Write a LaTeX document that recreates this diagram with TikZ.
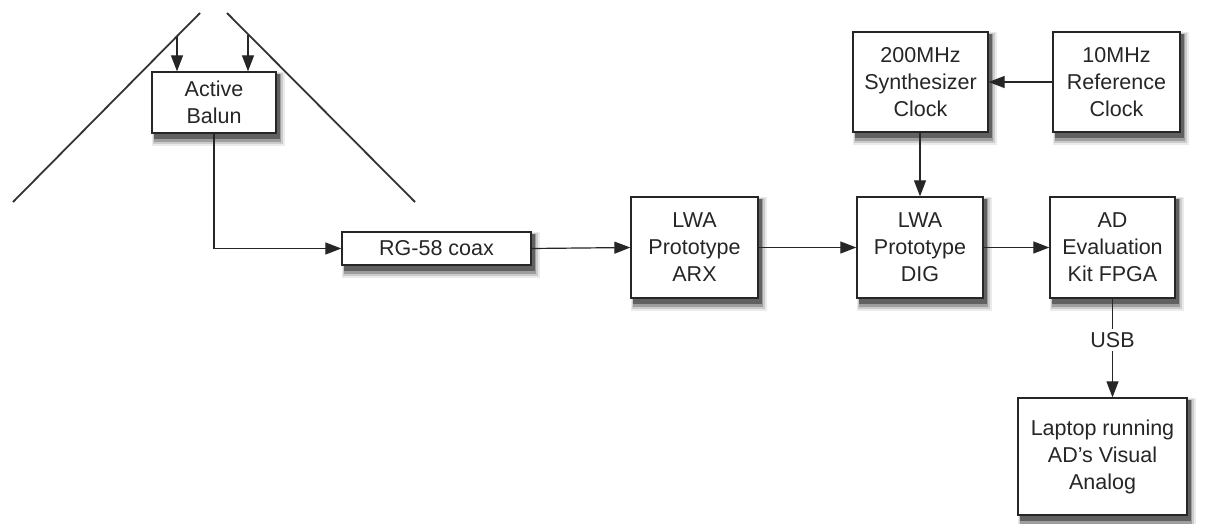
\documentclass[tikz,border=0pt]{standalone}
\usepackage{fontspec}
\setmainfont{Liberation Sans}
\usetikzlibrary{arrows.meta}
\newcommand\shadowat[4]{%
  \fill[black!8] (#1,#2) rectangle ([shift={(9,13)}]#3,#4);
  \fill[black!20] ([shift={(1,1)}]#1,#2) rectangle ([shift={(7,11)}]#3,#4);
  \fill[black!38] ([shift={(2,2)}]#1,#2) rectangle ([shift={(5,9)}]#3,#4);
  \fill[black!62] ([shift={(2,2)}]#1,#2) rectangle ([shift={(4,6)}]#3,#4);
}
\begin{document}
\begin{tikzpicture}[x=1pt,y=-1pt,
  box/.style={draw=black!85,line width=1.3pt,fill=white,align=center,
    inner sep=0pt,text=black!85,
    font=\fontsize{21.5}{27}\selectfont},
  arr/.style={draw=black!85,line width=1.2pt,-{Triangle[length=16pt,width=12pt]}},
  ant/.style={draw=black!80,line width=1.8pt}]
\useasboundingbox (0,0) rectangle (1210,524);
% soft drop shadows behind the boxes
\shadowat{152}{72}{276}{133}
\shadowat{342}{232}{531}{265}
\shadowat{631}{197}{758}{298}
\shadowat{857}{197}{983}{298}
\shadowat{1050}{197}{1175}{298}
\shadowat{853}{32}{988}{132}
\shadowat{1053}{32}{1180}{132}
\shadowat{1018}{398}{1187}{515}
% antenna
\coordinate (lt) at (200,13);
\coordinate (lb) at (13,202);
\coordinate (rt) at (227,13);
\coordinate (rb) at (415,202);
\draw[ant] (lt) -- (lb);
\draw[ant] (rt) -- (rb);
% nodes
\node[box,minimum width=124pt,minimum height=61pt] (balun) at (214,102.5) {Active\\Balun};
\node[box,minimum width=189pt,minimum height=33pt] (coax) at (436.5,248.5) {RG-58 coax};
\node[box,minimum width=127pt,minimum height=101pt] (arx) at (694.5,247.5) {LWA\\Prototype\\ARX};
\node[box,minimum width=126pt,minimum height=101pt] (dig) at (920,247.5) {LWA\\Prototype\\DIG};
\node[box,minimum width=125pt,minimum height=101pt] (ad) at (1112.5,247.5) {AD\\Evaluation\\Kit FPGA};
\node[box,minimum width=135pt,minimum height=100pt] (synth) at (920.5,82) {200MHz\\Synthesizer\\Clock};
\node[box,minimum width=127pt,minimum height=100pt] (ref) at (1116.5,82) {10MHz\\Reference\\Clock};
\node[box,minimum width=169pt,minimum height=117pt] (laptop) at (1102.5,456.5) {Laptop running\\AD's Visual\\Analog};
% feed points on the antenna arms
\coordinate (fl) at (177,37);
\coordinate (fr) at (248,35);
\draw[arr] (fl) -- (fl |- balun.north);
\draw[arr] (fr) -- (fr |- balun.north);
% connectors
\draw[arr] (balun.south) |- (coax.west);
\draw[arr] (coax.east) -- (arx.west);
\draw[arr] (arx.east) -- (dig.west);
\draw[arr] (dig.east) -- (ad.west);
\draw[arr] (ref.west) -- (synth.east);
\draw[arr] (synth.south -| dig.north) -- (dig.north);
\draw[arr] (ad.south) -- node[pos=0.42,fill=white,inner sep=3pt,text=black!85,font=\fontsize{21.5}{24}\selectfont] (usb) {USB} (ad.south |- laptop.north);
\end{tikzpicture}
\end{document}
